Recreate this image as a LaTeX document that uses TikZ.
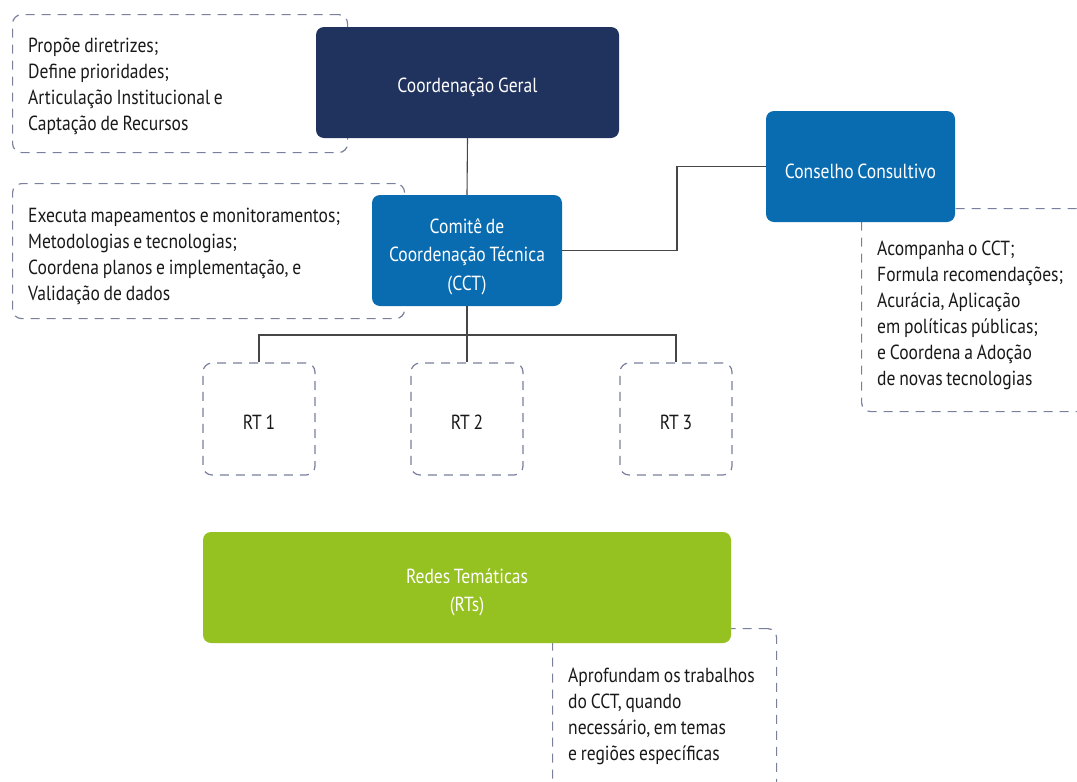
\documentclass[tikz,border=0pt]{standalone}
\usepackage{fontspec}
\setmainfont{PT Sans}[FakeStretch=0.86, WordSpace={0.8}]
\definecolor{navy}{RGB}{32,50,94}
\definecolor{cblue}{RGB}{10,108,176}
\definecolor{cgreen}{RGB}{149,193,33}
\definecolor{dashc}{RGB}{122,128,156}
\definecolor{linec}{RGB}{70,70,70}
\definecolor{txt}{RGB}{25,25,25}
\tikzset{
  solidbox/.style={rounded corners=8pt, minimum width=#1, minimum height=111pt, inner sep=0pt},
  boxtext/.style={text=white, align=center, inner sep=0pt, yshift=-5pt,
     font=\fontsize{20.4}{28.5}\selectfont},
  notebox/.style={draw=dashc, line width=1.2pt, dash pattern=on 9pt off 7pt, rounded corners=9pt,
     anchor=north west, inner sep=0pt},
  notetext/.style={anchor=west, align=left, inner sep=0pt, text=txt, xshift=16pt, yshift=-3pt,
     font=\fontsize{20.4}{26}\selectfont},
  rtbox/.style={draw=dashc, line width=1.2pt, dash pattern=on 9pt off 7pt, rounded corners=9pt,
     minimum width=112pt, minimum height=112pt, inner sep=0pt},
  rttext/.style={text=txt, inner sep=0pt, yshift=-3pt, font=\fontsize{20.4}{26}\selectfont},
  conn/.style={draw=linec, line width=1.1pt}
}
\begin{document}
\begin{tikzpicture}[x=1pt,y=-1pt]
\useasboundingbox (0,0) rectangle (1077,782);
\clip (0,0) rectangle (1077,782);
% dashed note boxes
\node[notebox, minimum width=335pt, minimum height=138pt] (n1) at (12,14) {};
\node[notetext] (n1t) at (n1.west)
  {Propõe diretrizes;\\Define prioridades;\\Articulação Institucional e\\Captação de Recursos};
\node[notebox, minimum width=392pt, minimum height=135pt] (n2) at (12,183) {};
\node[notetext, yshift=-2pt] (n2t) at (n2.west)
  {Executa mapeamentos e monitoramentos;\\Metodologias e tecnologias;\\Coordena planos e implementação, e\\Validação de dados};
\node[notebox, minimum width=240pt, minimum height=203pt] (n3) at (861,208) {};
\node[notetext, yshift=-2pt] (n3t) at (n3.west)
  {Acompanha o CCT;\\Formula recomendações;\\Acurácia, Aplicação\\em políticas públicas;\\e Coordena a Adoção\\de novas tecnologias};
\node[notebox, minimum width=224pt, minimum height=170pt] (n4) at (552,628) {};
\node[notetext] (n4t) at (n4.west)
  {Aprofundam os trabalhos\\do CCT, quando\\necessário, em temas\\e regiões específicas};
% solid boxes
\node[solidbox=303pt, fill=navy] (cg) at (467.5,82.5) {};
\node[boxtext] (cgt) at (cg.center) {Coordenação Geral};
\node[solidbox=190pt, fill=cblue] (cct) at (467,250.5) {};
\node[boxtext, yshift=-1pt] (cctt) at (cct.center) {Comitê de\\Coordenação Técnica\\(CCT)};
\node[solidbox=189pt, fill=cblue] (cc) at (860.5,166.5) {};
\node[boxtext] (cct2) at (cc.center) {Conselho Consultivo};
\node[solidbox=528pt, fill=cgreen] (rts) at (467,587.5) {};
\node[boxtext] (rtst) at (rts.center) {Redes Temáticas\\(RTs)};
% RT boxes
\node[rtbox] (rt1) at (259,419) {};
\node[rtbox] (rt2) at (467,419) {};
\node[rtbox] (rt3) at (676,419) {};
\node[rttext] (rt1t) at (rt1.center) {RT 1};
\node[rttext] (rt2t) at (rt2.center) {RT 2};
\node[rttext] (rt3t) at (rt3.center) {RT 3};
% connectors
\coordinate (bus) at (467,335);
\draw[conn] (cg.south) -- (cct.north);
\draw[conn] (cct.east) -- (cct.east -| 677,0) |- (cc.west);
\draw[conn] (cct.south) -- (bus);
\draw[conn] (rt1.north) |- (bus) -| (rt3.north);
\draw[conn] (bus) -- (rt2.north);
\end{tikzpicture}
\end{document}
